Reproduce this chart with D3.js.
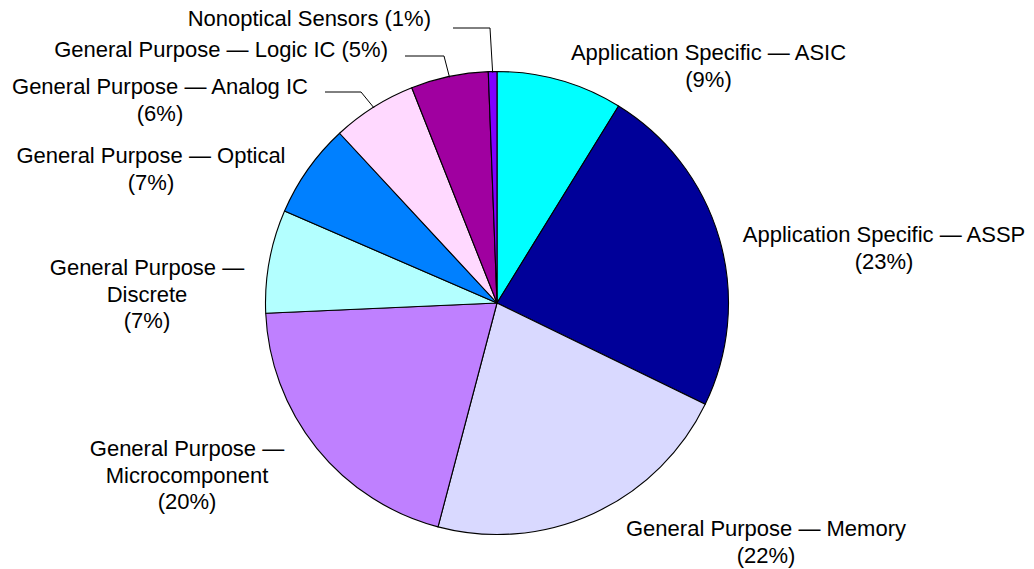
<!DOCTYPE html>
<html>
<head>
<meta charset="utf-8">
<script src="https://cdn.jsdelivr.net/npm/d3@7"></script>
<style>
  html, body { margin: 0; padding: 0; background: #fff; }
  svg { display: block; }
  text { font-family: "Liberation Sans", Arial, sans-serif; font-size: 22px; fill: #000; }
</style>
</head>
<body>
<svg id="chart" width="1034" height="569"></svg>
<script>
// ---- data ----
const categories = [
  "Application Specific — ASIC",
  "Application Specific — ASSP",
  "General Purpose — Memory",
  "General Purpose — Microcomponent",
  "General Purpose — Discrete",
  "General Purpose — Optical",
  "General Purpose — Analog IC",
  "General Purpose — Logic IC",
  "Nonoptical Sensors"
];
const values = [8.8, 23.4, 21.9, 20.2, 7.2, 6.6, 5.9, 5.4, 0.6];
const percentLabels = ["(9%)", "(23%)", "(22%)", "(20%)", "(7%)", "(7%)", "(6%)", "(5%)", "(1%)"];
const labelLines = [
  ["Application Specific — ASIC", "(9%)"],
  ["Application Specific — ASSP", "(23%)"],
  ["General Purpose — Memory", "(22%)"],
  ["General Purpose —", "Microcomponent", "(20%)"],
  ["General Purpose —", "Discrete", "(7%)"],
  ["General Purpose — Optical", "(7%)"],
  ["General Purpose — Analog IC", "(6%)"],
  ["General Purpose — Logic IC (5%)"],
  ["Nonoptical Sensors (1%)"]
];
const colors = ["#00FFFF", "#000099", "#D9D9FF", "#BF80FF", "#B3FFFF", "#0080FF", "#FFD9FF", "#A000A0", "#8000FF"];

// ---- layout (positions/styles) ----
const cx = 497, cy = 303, R = 231.5;
const lineH = 26.5;
const labelLayout = [
  { x: 708.5, y: 60, anchor: "middle" },
  { x: 884, y: 242, anchor: "middle" },
  { x: 766, y: 536, anchor: "middle" },
  { x: 187, y: 456, anchor: "middle" },
  { x: 147, y: 275, anchor: "middle" },
  { x: 151, y: 163, anchor: "middle" },
  { x: 160, y: 94, anchor: "middle", leader: { x0: 325, y: 92, x1: 361 } },
  { x: 388, y: 57, anchor: "end", leader: { x0: 405, y: 56, x1: 444 } },
  { x: 431, y: 26, anchor: "end", leader: { x0: 453, y: 28, x1: 490 } }
];

const data = categories.map((c, i) => ({ name: c, value: values[i], color: colors[i], lines: labelLines[i], pct: percentLabels[i], layout: labelLayout[i] }));

const svg = d3.select("#chart");
const g = svg.append("g").attr("transform", `translate(${cx},${cy})`);

const pie = d3.pie().value(d => d.value).sort(null).startAngle(0).endAngle(2 * Math.PI);
const arcs = pie(data);
const arc = d3.arc().innerRadius(0).outerRadius(R);
const edgeArc = d3.arc().innerRadius(R - 1).outerRadius(R - 1);

g.selectAll("path.slice")
  .data(arcs)
  .join("path")
  .attr("class", "slice")
  .attr("d", arc)
  .attr("fill", d => d.data.color)
  .attr("stroke", "#000")
  .attr("stroke-width", 1.1)
  .attr("stroke-linejoin", "round");

// leader lines
arcs.forEach(a => {
  const L = a.data.layout.leader;
  if (!L) return;
  const [ex, ey] = edgeArc.centroid(a);
  svg.append("polyline")
    .attr("points", `${L.x0},${L.y} ${L.x1},${L.y} ${cx + ex},${cy + ey}`)
    .attr("fill", "none")
    .attr("stroke", "#000")
    .attr("stroke-width", 1);
});

// labels
arcs.forEach(a => {
  const lay = a.data.layout;
  const t = svg.append("text")
    .attr("text-anchor", lay.anchor)
    .attr("x", lay.x)
    .attr("y", lay.y);
  a.data.lines.forEach((ln, j) => {
    t.append("tspan").attr("x", lay.x).attr("y", lay.y + j * lineH).text(ln);
  });
});
</script>
</body>
</html>
